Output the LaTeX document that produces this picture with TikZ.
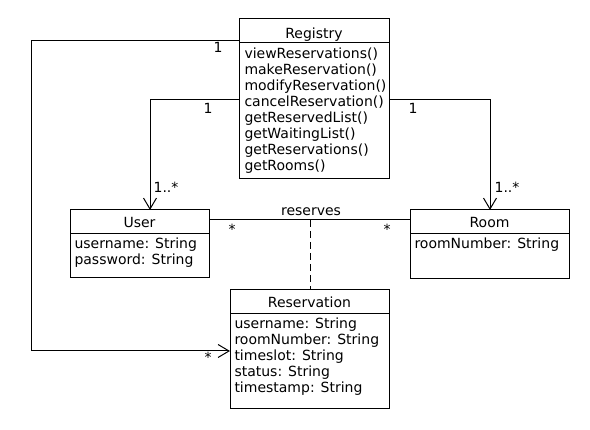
\documentclass[tikz,border=0pt]{standalone}
\usepackage{fontspec}
\setmainfont{DejaVu Sans}
\usetikzlibrary{arrows.meta}
\newcommand\umlfont{\fontsize{14}{16}\selectfont}
\begin{document}
\begin{tikzpicture}[x=1pt,y=-1pt,line width=1pt,
  box/.style={draw,line width=1pt,inner sep=0pt,outer sep=0pt,anchor=north west},
  title/.style={inner sep=0pt,anchor=base,font=\umlfont},
  attr/.style={inner sep=0pt,anchor=base west,font=\umlfont},
  lbl/.style={inner sep=0pt,anchor=base,font=\umlfont},
  assoc/.style={draw,line width=1pt},
  nav/.style={assoc,-{Straight Barb[length=11pt,width=13pt]}},
  dep/.style={draw,line width=1pt,dash pattern=on 7pt off 4pt}]
\useasboundingbox (0,0) rectangle (590,430);
\fill[white] (0,0) rectangle (590,430);
% boxes
\node[box,minimum width=150pt,minimum height=160pt] (reg) at (239,19) {};
\node[box,minimum width=139pt,minimum height=68pt] (user) at (70,210) {};
\node[box,minimum width=159pt,minimum height=69pt] (room) at (410,210) {};
\node[box,minimum width=159pt,minimum height=119pt] (res) at (230,290) {};
% header separators
\draw ([yshift=-24pt]reg.north west) -- ([yshift=-24pt]reg.north east);
\draw ([yshift=-24pt]user.north west) -- ([yshift=-24pt]user.north east);
\draw ([yshift=-24pt]room.north west) -- ([yshift=-24pt]room.north east);
\draw ([yshift=-24pt]res.north west) -- ([yshift=-24pt]res.north east);
% titles
\node[title] (regt) at (314,39) {Registry};
\node[title] (usert) at (139.5,228) {User};
\node[title] (roomt) at (489.5,228) {Room};
\node[title] (rest) at (309.5,308) {Reservation};
% Registry methods
\node[attr] (m1) at (244,59) {viewReservations()};
\node[attr] (m2) at (244,75) {makeReservation()};
\node[attr] (m3) at (244,91) {modifyReservation()};
\node[attr] (m4) at (244,107) {cancelReservation()};
\node[attr] (m5) at (244,123) {getReservedList()};
\node[attr] (m6) at (244,139) {getWaitingList()};
\node[attr] (m7) at (244,155) {getReservations()};
\node[attr] (m8) at (244,171) {getRooms()};
% User attributes
\node[attr] (u1) at (74,249) {username: String};
\node[attr] (u2) at (74,265) {password: String};
% Room attributes
\node[attr] (r1) at (414,249) {roomNumber: String};
% Reservation attributes
\node[attr] (s1) at (234,329) {username: String};
\node[attr] (s2) at (234,345) {roomNumber: String};
\node[attr] (s3) at (234,361) {timeslot: String};
\node[attr] (s4) at (234,377) {status: String};
\node[attr] (s5) at (234,393) {timestamp: String};
% bend points
\coordinate (a1) at (31,41);
\coordinate (a2) at (31,351);
\coordinate (b1) at (150,100);
\coordinate (c1) at (490,100);
\coordinate (d1) at (310,220);
% connectors
\draw[nav] (reg.west |- a1) -- (a1) -- (a2) -- (res.west |- a2);
\draw[nav] (reg.west |- b1) -- (b1) -- (user.north -| b1);
\draw[nav] (reg.east |- c1) -- (c1) -- (room.north -| c1);
\draw[assoc] (user.east |- d1) -- (room.west |- d1);
\draw[dep] (d1) -- (res.north -| d1);
% labels
\node[lbl] (l1) at (218,53) {1};
\node[lbl] (l2) at (208,363) {*};
\node[lbl] (l3) at (208,114) {1};
\node[lbl] (l4) at (166,193) {1..*};
\node[lbl] (l5) at (413,114) {1};
\node[lbl] (l6) at (507,193) {1..*};
\node[lbl] (l7) at (311,216) {reserves};
\node[lbl] (l8) at (232,235) {*};
\node[lbl] (l9) at (387,235) {*};
\end{tikzpicture}
\end{document}
